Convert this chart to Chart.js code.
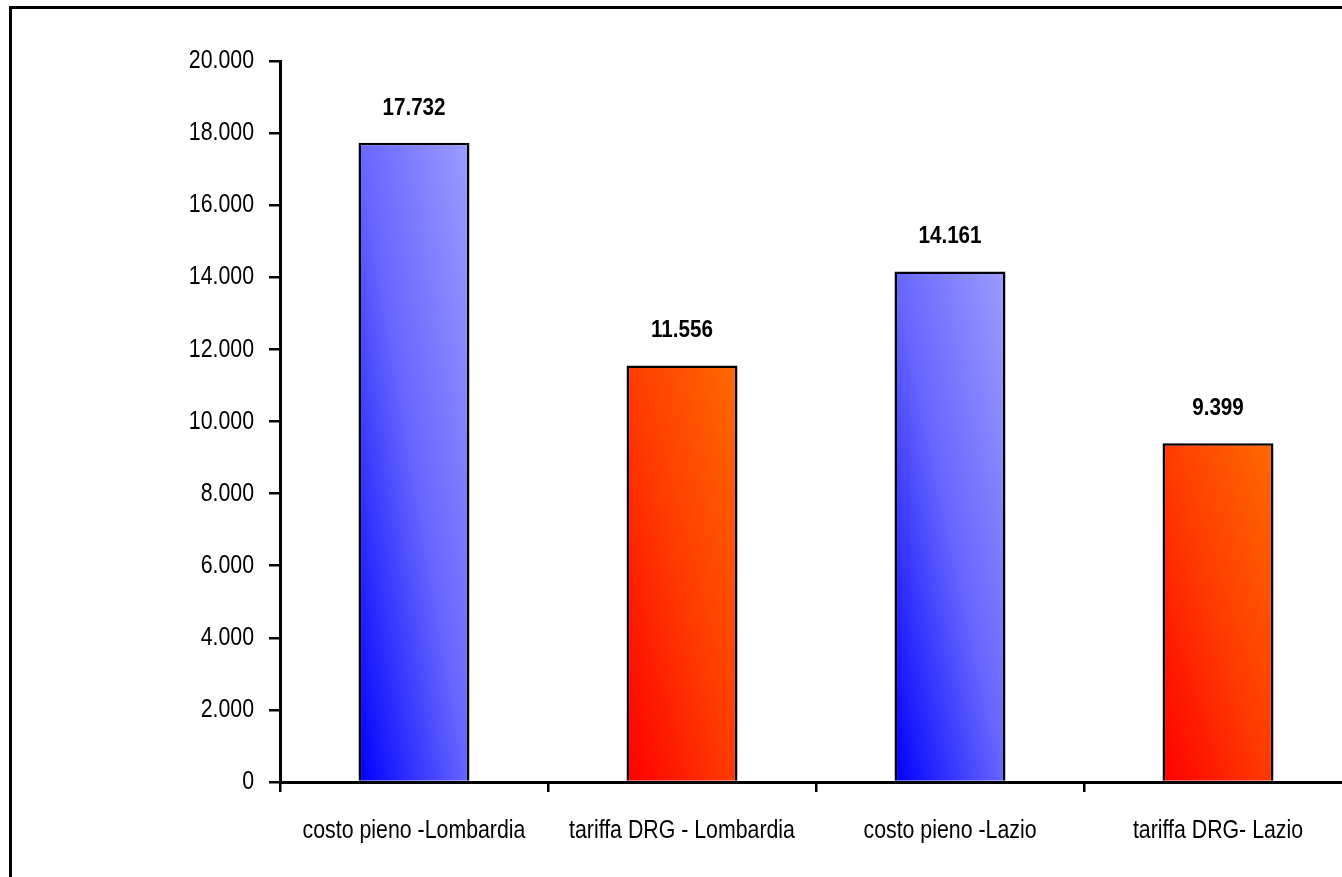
<!DOCTYPE html>
<html>
<head>
<meta charset="utf-8">
<script src="https://cdn.jsdelivr.net/npm/chart.js@4/dist/chart.umd.min.js"></script>
<style>
  html, body { margin: 0; padding: 0; background: #fff; overflow: hidden; }
  #wrap { position: relative; width: 1342px; height: 877px; overflow: hidden; }
  #frame { position: absolute; left: 9px; top: 6px; width: 1400px; height: 900px;
           border-left: 3px solid #000; border-top: 3px solid #000; box-sizing: border-box; }
  #c { position: absolute; left: 0; top: 0; }
</style>
</head>
<body>
<div id="wrap">
  <div id="frame"></div>
  <canvas id="c" width="1380" height="877" style="width:1380px;height:877px"></canvas>
</div>
<script>
// Costo medio per ricovero: costo pieno vs tariffa DRG
const categories = ['costo pieno -Lombardia', 'tariffa DRG - Lombardia', 'costo pieno -Lazio', 'tariffa DRG- Lazio'];
const values = [17732, 11556, 14161, 9399];
const barKinds = ['costo', 'tariffa', 'costo', 'tariffa'];
const yTicks = [0, 2000, 4000, 6000, 8000, 10000, 12000, 14000, 16000, 18000, 20000];

const FONT = "'Liberation Sans', Arial, sans-serif";
const CANVAS_W = 1380;
const PLOT_LEFT = 280, PLOT_RIGHT = 1352, PLOT_TOP = 61, PLOT_BOTTOM = 782;

const palette = {
  costo:   ['#0000ff', '#6666ff', '#9c9cff'],
  tariffa: ['#ff0000', '#ff3c00', '#ff6a00']
};

function fmt(n) {
  return String(n).replace(/\B(?=(\d{3})+(?!\d))/g, '.');
}

// narrow lettering: every text on this canvas is squeezed horizontally
const canvas = document.getElementById('c');
const ctx2d = canvas.getContext('2d');
const rawFillText = ctx2d.fillText.bind(ctx2d);
let squeeze = 0.82;
ctx2d.fillText = function (text, x, y, maxWidth) {
  const w = this.measureText(text).width * squeeze;
  rawFillText(text, x, y, maxWidth !== undefined ? Math.min(maxWidth, w) : w);
};

// diagonal fill across each bar (bottom-left -> top-right, in bar-relative coords)
function barFill(ctx) {
  const chart = ctx.chart;
  const i = ctx.dataIndex;
  const cols = palette[barKinds[i]];
  if (!chart.chartArea || i === undefined) return cols[1];
  const xs = chart.scales.x, ys = chart.scales.y;
  const slot = (xs.getPixelForValue(1) - xs.getPixelForValue(0));
  const w = slot * 0.414;
  const cx = xs.getPixelForValue(i);
  const left = cx - w / 2;
  const bottom = ys.getPixelForValue(0);
  const top = ys.getPixelForValue(values[i]);
  const h = Math.max(1, bottom - top);
  const k = 2 / (1 / (w * w) + 1 / (h * h));
  const g = chart.ctx.createLinearGradient(left, bottom, left + k / w, bottom - k / h);
  g.addColorStop(0, cols[0]);
  g.addColorStop(0.5, cols[1]);
  g.addColorStop(1, cols[2]);
  return g;
}

const valueLabels = {
  id: 'valueLabels',
  afterDatasetsDraw(chart) {
    const c = chart.ctx;
    const meta = chart.getDatasetMeta(0);
    c.save();
    c.font = 'bold 24px ' + FONT;
    c.fillStyle = '#000';
    c.textAlign = 'center';
    c.textBaseline = 'alphabetic';
    squeeze = 0.86;
    meta.data.forEach((el, i) => {
      c.fillText(fmt(values[i]), el.x, el.y - 28);
    });
    squeeze = 0.82;
    c.restore();
  }
};

new Chart(canvas, {
  type: 'bar',
  data: {
    labels: categories,
    datasets: [{
      data: values,
      backgroundColor: barFill,
      borderColor: '#000',
      borderWidth: 2.5,
      borderSkipped: 'bottom',
      categoryPercentage: 1,
      barPercentage: 0.414
    }]
  },
  options: {
    responsive: false,
    animation: false,
    events: [],
    layout: { padding: { left: 0, top: PLOT_TOP, right: CANVAS_W - PLOT_RIGHT, bottom: 0 } },
    plugins: { legend: { display: false }, tooltip: { enabled: false } },
    scales: {
      x: {
        afterFit(s) { s.height = 877 - PLOT_BOTTOM; },
        grid: { offset: true, drawOnChartArea: false, drawTicks: true, tickLength: 10, color: '#000', lineWidth: 2.5 },
        border: { display: true, color: '#000', width: 3 },
        ticks: { color: '#000', font: { family: FONT, size: 26 }, padding: 23, maxRotation: 0, autoSkip: false }
      },
      y: {
        min: 0,
        max: 20000,
        afterFit(s) { s.width = PLOT_LEFT; },
        afterBuildTicks(s) { s.ticks = yTicks.map(v => ({ value: v })); },
        grid: { drawOnChartArea: false, drawTicks: true, tickLength: 11, color: '#000', lineWidth: 2.5 },
        border: { display: true, color: '#000', width: 3 },
        ticks: { color: '#000', font: { family: FONT, size: 26 }, padding: 15, callback: v => fmt(v) }
      }
    }
  },
  plugins: [valueLabels]
});
</script>
</body>
</html>
